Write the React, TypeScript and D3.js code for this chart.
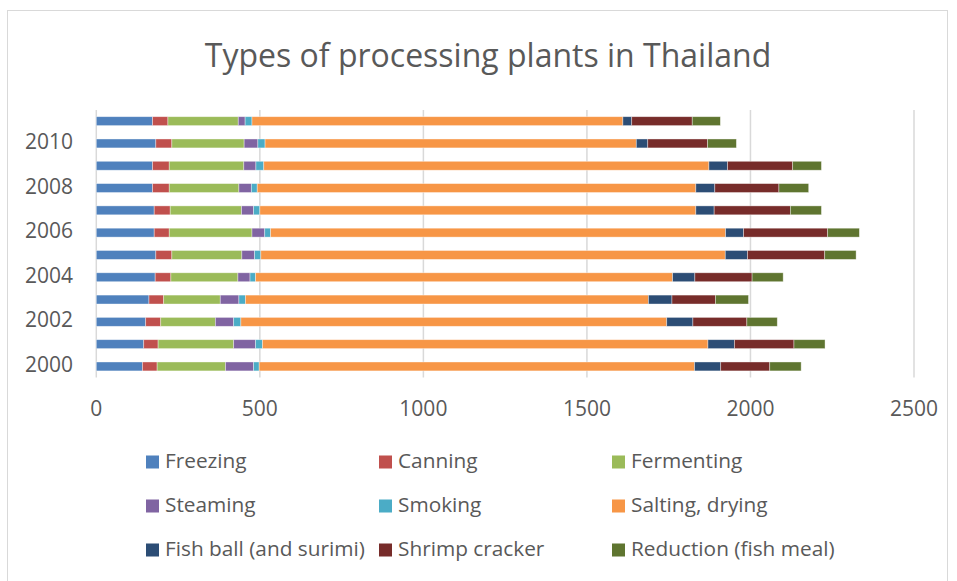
import React from "react";
import * as d3 from "d3";

const years = ["2000","2001","2002","2003","2004","2005","2006","2007","2008","2009","2010","2011"];
const yearLabels = ["2000","2002","2004","2006","2008","2010"];
const seriesNames = ["Freezing","Canning","Fermenting","Steaming","Smoking","Salting, drying","Fish ball (and surimi)","Shrimp cracker","Reduction (fish meal)"];
const colors = ["#4F81BD","#C0504D","#9BBB59","#8064A2","#4BACC6","#F79646","#2C4D75","#772C2A","#5F7530"];

const freezing   = [141,145,151,161,180,182,177,177,172,172,182,172];
const canning    = [45,44,46,45,48,49,46,49,51,51,49,47];
const fermenting = [209,231,167,173,205,214,253,218,213,228,221,215];
const steaming   = [86,67,56,57,37,39,39,37,38,37,42,21];
const smoking    = [17,21,22,20,17,19,18,19,18,24,22,21];
const salting    = [1331,1362,1302,1232,1275,1420,1391,1333,1341,1361,1135,1134];
const fishball   = [80,81,80,72,68,68,55,56,58,57,35,27];
const shrimp     = [150,182,165,133,175,236,257,233,196,199,183,185];
const reduction  = [96,95,93,101,95,96,97,95,91,88,88,86];
const xTicks = [0,500,1000,1500,2000,2500];

const allSeries = [freezing,canning,fermenting,steaming,smoking,salting,fishball,shrimp,reduction];

const W = 957, H = 581;
const plot = { left: 96.3, right: 914, top: 110, bottom: 377.6 };
const FONT = "'Open Sans', sans-serif";
const TEXT = "#595959";

export default function App() {
  const x = d3.scaleLinear().domain([0, 2500]).range([plot.left, plot.right]);
  const y = d3.scaleBand().domain([...years].reverse()).range([plot.top, plot.bottom]).paddingInner(0.6).paddingOuter(0.3);
  const table = years.map((yr, i) => {
    const row: any = { year: yr };
    seriesNames.forEach((s, j) => (row[s] = allSeries[j][i]));
    return row;
  });
  const stacked = d3.stack().keys(seriesNames)(table);

  const legendCols = [146, 379, 612];
  const legendRows = [462, 506, 550];

  return (
    <svg width={W} height={H} style={{ position: "absolute", left: 0, top: 0 }}>
      <rect x={0} y={0} width={W} height={H} fill="#fff" />
      <rect x={7.5} y={10.5} width={940} height={H} fill="#fff" stroke="#d9d9d9" strokeWidth={1} />
      <text x={488} y={58} textAnchor="middle" dominantBaseline="middle" fontFamily={FONT} fontSize={32} fill={TEXT}>
        Types of processing plants in Thailand
      </text>
      {xTicks.map((t) => (
        <g key={t}>
          <line x1={x(t)} x2={x(t)} y1={plot.top} y2={plot.bottom} stroke="#d9d9d9" strokeWidth={1.5} />
          <text x={x(t)} y={410} textAnchor="middle" dominantBaseline="middle" fontFamily={FONT} fontSize={21} fill={TEXT}>{t}</text>
        </g>
      ))}
      {stacked.map((layer, j) => (
        <g key={seriesNames[j]} fill={colors[j]}>
          {layer.map((d: any, i: number) => (
            <rect key={i} x={x(d[0])} width={x(d[1]) - x(d[0])} y={y(years[i])} height={y.bandwidth()}
              stroke="#ffffff" strokeOpacity={0.5} strokeWidth={0.75} />
          ))}
        </g>
      ))}
      {yearLabels.map((yr) => (
        <text key={yr} x={73} y={(y(yr) as number) + y.bandwidth() / 2} textAnchor="end" dominantBaseline="middle"
          fontFamily={FONT} fontSize={21} fill={TEXT}>{yr}</text>
      ))}
      {seriesNames.map((s, j) => {
        const cx = legendCols[j % 3];
        const cy = legendRows[Math.floor(j / 3)];
        return (
          <g key={s}>
            <rect x={cx} y={cy - 6.5} width={13} height={13} fill={colors[j]} />
            <text x={cx + 19} y={cy} dominantBaseline="middle" fontFamily={FONT} fontSize={20.8} fill={TEXT}>{s}</text>
          </g>
        );
      })}
    </svg>
  );
}
